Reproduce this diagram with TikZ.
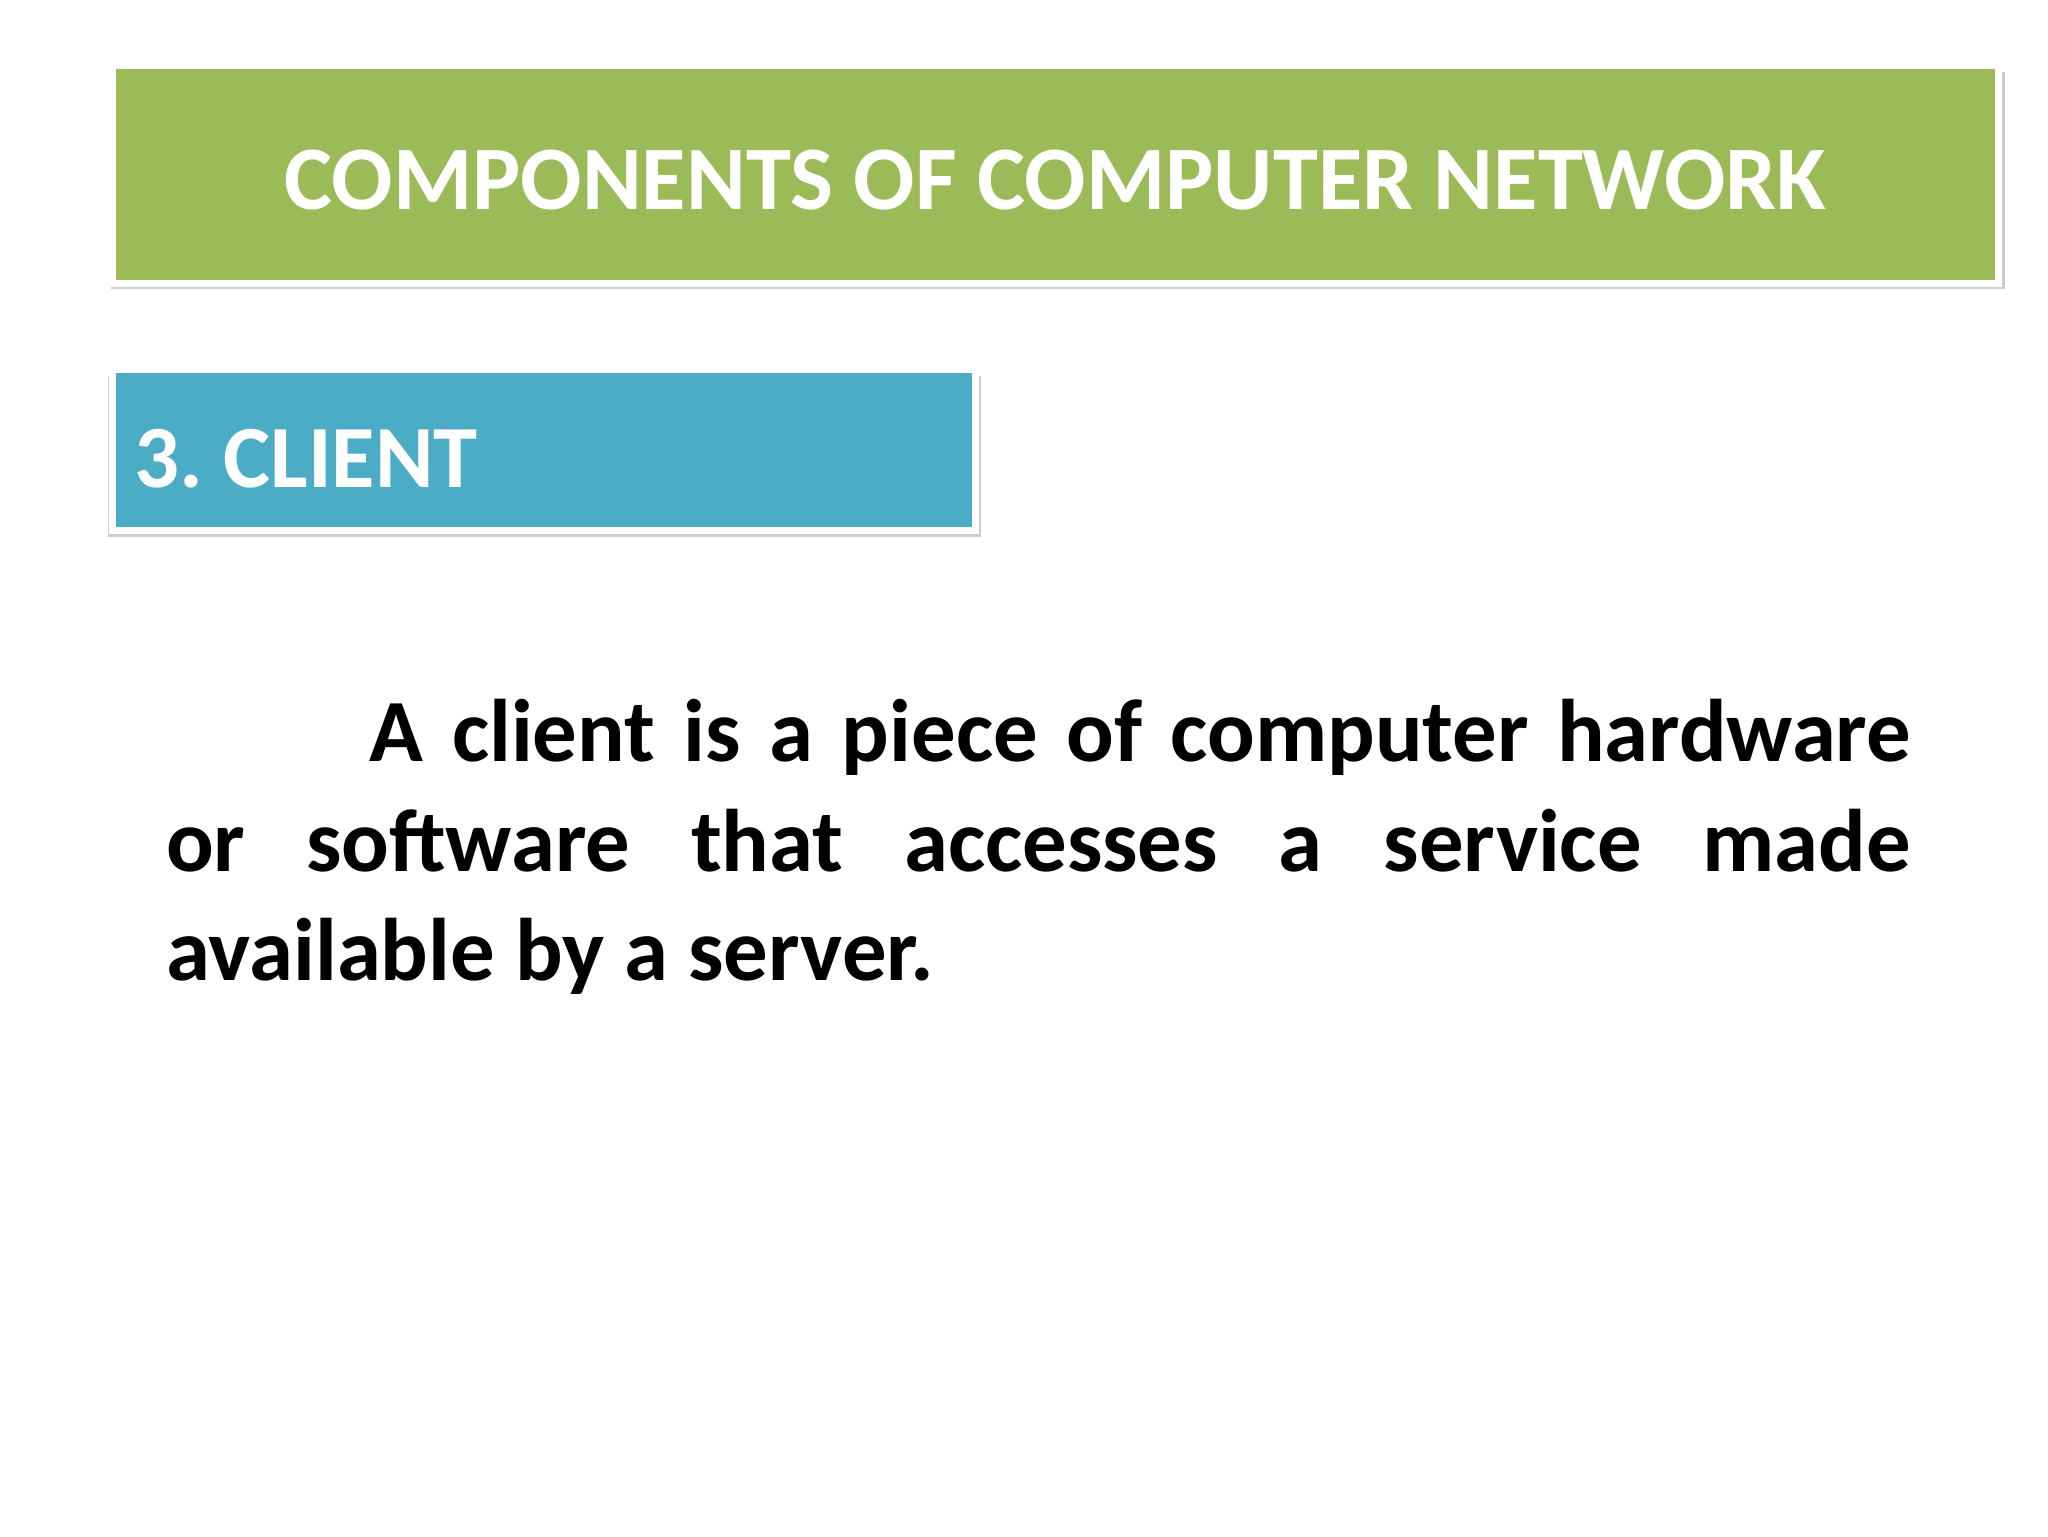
\documentclass[tikz,border=0pt]{standalone}
\usepackage{fontspec}
\setmainfont{Carlito}
\definecolor{tgreen}{HTML}{9BBB59}
\definecolor{tblue}{HTML}{4BACC6}
\tikzset{
  bannerbox/.style={draw=white, line width=5pt},
  shadowbox/.style={fill=black!20},
}
\frenchspacing
\begin{document}
\begin{tikzpicture}[x=1pt,y=-1pt]
\useasboundingbox[fill=white] (0,0) rectangle (1568,1176);
\fill[shadowbox] (85,55) rectangle (1535,221);
\filldraw[bannerbox, fill=tgreen] (86,50) rectangle (1530,217);
\node[text=white, font=\fontsize{69.5}{75}\selectfont\bfseries] (title) at (808,138) {COMPONENTS OF COMPUTER NETWORK};
\fill[shadowbox] (83,288) rectangle (751,411);
\filldraw[bannerbox, fill=tblue] (86,283) rectangle (747,406);
\node[anchor=base west, text=white, font=\fontsize{68}{75}\selectfont\bfseries, inner sep=0pt] (head) at (103,373) {3. CLIENT};
\node[anchor=north west, inner sep=0pt, text width=1336pt, align=justify, font=\fontsize{68}{84}\selectfont\bfseries] (body) at (127,535)
{\parindent=156pt\indent A client is a piece of computer hardware\linebreak or software that accesses a service made\linebreak available by a server.};
\end{tikzpicture}
\end{document}
